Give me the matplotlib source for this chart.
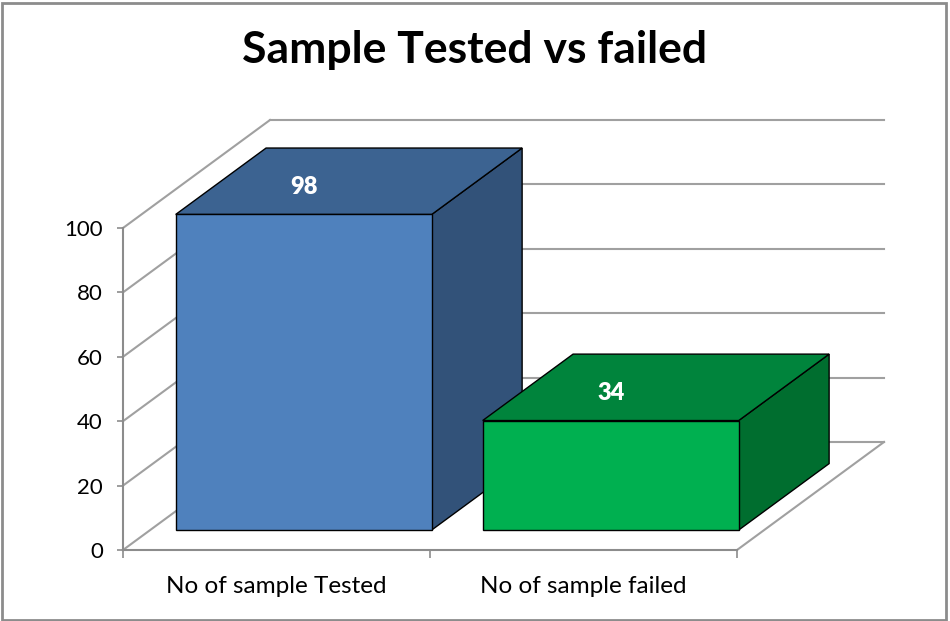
import numpy as np
import matplotlib
matplotlib.use("Agg")
import matplotlib.pyplot as plt
from matplotlib.patches import Polygon, Rectangle

# data
categories = ["No of sample Tested", "No of sample failed"]
values = [98, 34]
yticks = [0, 20, 40, 60, 80, 100]
front_colors = ["#4F81BD", "#00B050"]
top_colors = ["#3C6391", "#00843C"]
side_colors = ["#325279", "#006E2F"]

plt.rcParams['font.family'] = ['Lato', 'DejaVu Sans']

W, H = 950, 621
fig = plt.figure(figsize=(W / 100, H / 100), dpi=100)
ax = fig.add_axes([123 / W, (H - 550) / H, 614 / W, 322 / H])
ax.set_xlim(0, len(categories))
ax.set_ylim(0, 100)

# oblique depth offsets (full depth of the plot box)
DX = 147 / 307.0      # category units
DY = 108 / 3.22       # value units
grid_c = "#A0A0A0"
axis_c = "#8C8C8C"


def shift(x, y, d):
    return x + DX * d, y + DY * d


n = len(categories)
# walls: back wall gridlines and left wall lines
for v in yticks:
    x0, y0 = shift(0, v, 1)
    x1, y1 = shift(n, v, 1)
    ax.plot([0, x0], [v, y0], color=grid_c, lw=1.5, clip_on=False, zorder=1)
    ax.plot([x0, x1], [y0, y1], color=grid_c, lw=1.5, clip_on=False, zorder=1)
# floor right edge
xr, yr = shift(n, 0, 1)
ax.plot([n, xr], [0, yr], color=grid_c, lw=1.5, clip_on=False, zorder=1)

# bars
d0, d1 = 0.185, 0.80
bw = 0.834
for i, v in enumerate(values):
    xl = i + 0.5 - bw / 2
    xrr = i + 0.5 + bw / 2
    side = [shift(xrr, 0, d0), shift(xrr, 0, d1), shift(xrr, v, d1), shift(xrr, v, d0)]
    top = [shift(xl, v, d0), shift(xrr, v, d0), shift(xrr, v, d1), shift(xl, v, d1)]
    front = [shift(xl, 0, d0), shift(xrr, 0, d0), shift(xrr, v, d0), shift(xl, v, d0)]
    for pts, c in [(side, side_colors[i]), (top, top_colors[i]), (front, front_colors[i])]:
        ax.add_patch(Polygon(pts, closed=True, facecolor=c, edgecolor="black",
                             lw=1.0, clip_on=False, zorder=3 + i))
    lx, ly = shift(i + 0.5, v, d0)
    ax.text(lx, ly + 8.4, str(v), color="white", fontsize=17, fontweight="heavy",
            ha="center", va="center", zorder=10)

# axes styling
for s in ["top", "right"]:
    ax.spines[s].set_visible(False)
for s in ["left", "bottom"]:
    ax.spines[s].set_color(axis_c)
    ax.spines[s].set_linewidth(1.5)
    ax.spines[s].set_zorder(2)
ax.patch.set_visible(False)
ax.set_yticks(yticks)
ax.tick_params(axis="y", direction="out", length=4.5, width=1.2, color=axis_c,
               labelsize=16, pad=10, labelcolor="black")
ax.set_xticks(np.arange(n + 1))
ax.set_xticklabels([])
ax.set_xticks(np.arange(n) + 0.5, minor=True)
ax.set_xticklabels(categories, minor=True)
ax.tick_params(axis="x", which="major", direction="out", length=6, width=1.2, color=axis_c)
ax.tick_params(axis="x", which="minor", length=0, labelsize=17.5, pad=18.5)

fig.text(0.5, 1 - 50 / H, "Sample Tested vs failed", ha="center", va="center",
         fontsize=32, fontweight="bold")

fig.patches.append(Rectangle((1.5 / W, 1.5 / H), 944 / W, 617 / H, transform=fig.transFigure,
                             fill=False, edgecolor="#8C8C8C", lw=2))

fig.savefig("out.png", dpi=100)
